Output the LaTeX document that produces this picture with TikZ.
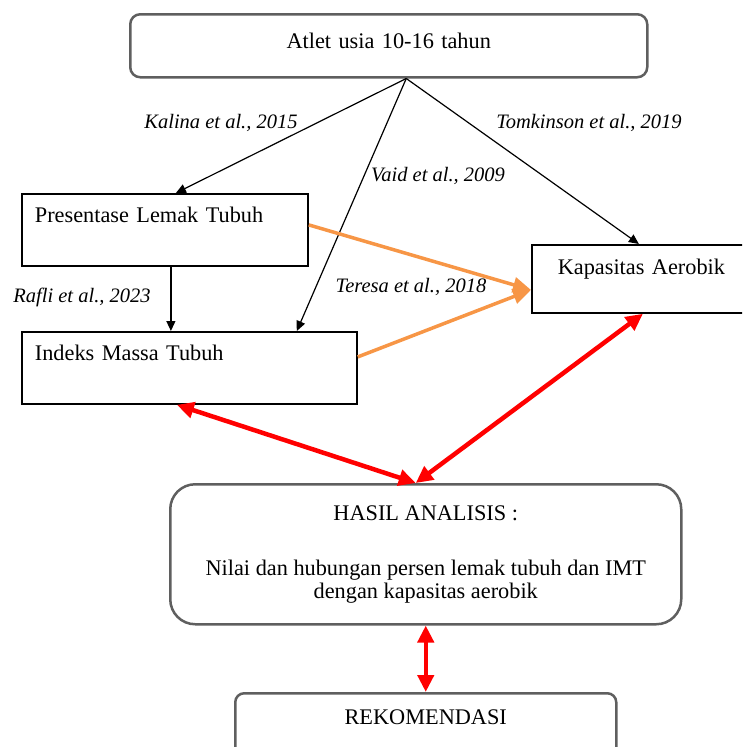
\documentclass[tikz,border=0pt]{standalone}
\usepackage{fontspec}
\setmainfont{Liberation Serif}
\usetikzlibrary{arrows.meta}
\definecolor{jingga}{RGB}{247,150,70}
\definecolor{garis}{RGB}{95,95,95}
\tikzset{
  kotak/.style={draw, line width=1.8pt, inner sep=0pt, anchor=north west},
  kotakbulat/.style={kotak, draw=garis, line width=2.5pt},
  rujukan/.style={font=\fontsize{20.5}{24}\selectfont\itshape, anchor=base, inner sep=0pt},
  panah/.style={-{Triangle[length=10pt,width=9pt]}, line width=1.2pt},
  panahjingga/.style={-{Triangle[length=18pt,width=15pt]}, draw=jingga, line width=3.5pt},
  panahmerah/.style={{Triangle[length=17pt,width=16pt]}-{Triangle[length=17pt,width=16pt]}, draw=red, line width=4.5pt}
}

\begin{document}
\begin{tikzpicture}[x=1pt, y=-1pt, font=\fontsize{22.3}{23}\selectfont]
    \useasboundingbox (0,0) rectangle (742,747);
    \clip (0,0) rectangle (742,747);

    % kotak
    \node[kotakbulat, rounded corners=10pt, text width=517pt, align=center,
          text height=34pt, text depth=29pt] (atlet) at (129,13) {Atlet usia 10-16 tahun};
    \node[kotak, text width=260pt, inner xsep=13pt, align=left,
          text height=29pt, text depth=43pt] (lemak) at (21,193) {Presentase Lemak Tubuh};
    \node[kotak, text width=309pt, inner xsep=13pt, align=left,
          text height=29pt, text depth=43pt] (imt) at (21,331) {Indeks Massa Tubuh};
    \node[kotak, text width=219pt, align=center,
          text height=30pt, text depth=38pt] (kapasitas) at (531,244) {Kapasitas Aerobik};
    \node[kotakbulat, rounded corners=25pt, minimum width=511pt, minimum height=140pt,
          align=center] (hasil) at (169,483)
          {HASIL ANALISIS :\\[32pt]Nilai dan hubungan persen lemak tubuh dan IMT\\dengan kapasitas aerobik};
    \node[kotakbulat, rounded corners=9pt, text width=381pt, align=center,
          text height=31pt, text depth=35pt] (rekom) at (234,692) {REKOMENDASI};

    % panah hitam
    \coordinate (puncak) at ([xshift=17.5pt]atlet.south);
    \draw[panah] (puncak) -- ([xshift=11pt]lemak.north);
    \draw[panah] (puncak) -- ([xshift=-61pt]imt.north east);
    \draw[panah] (puncak) -- ([xshift=-2.5pt]kapasitas.north);
    \draw[panah] ([xshift=6pt]lemak.south) -- ([xshift=6pt]lemak.south |- imt.north);

    % panah jingga
    \draw[panahjingga] ([yshift=5pt]lemak.east) -- ([yshift=-11pt]kapasitas.west);
    \draw[panahjingga] ([yshift=11pt]imt.east) -- ([yshift=-11pt]kapasitas.west);

    % panah merah
    \coordinate (temu) at ([xshift=-10pt]hasil.north);
    \draw[panahmerah] ([xshift=-12.5pt]imt.south) -- (temu);
    \draw[panahmerah] ([xshift=1.5pt]kapasitas.south) -- (temu);
    \draw[panahmerah] (hasil.south) -- (rekom.north);

    % rujukan
    \node[rujukan] (kalina) at (221,128) {Kalina et al., 2015};
    \node[rujukan] (tomkinson) at (589,128) {Tomkinson et al., 2019};
    \node[rujukan] (vaid) at (438,181) {Vaid et al., 2009};
    \node[rujukan] (rafli) at (82,302) {Rafli et al., 2023};
    \node[rujukan] (teresa) at (411,292) {Teresa et al., 2018};
\end{tikzpicture}
\end{document}
